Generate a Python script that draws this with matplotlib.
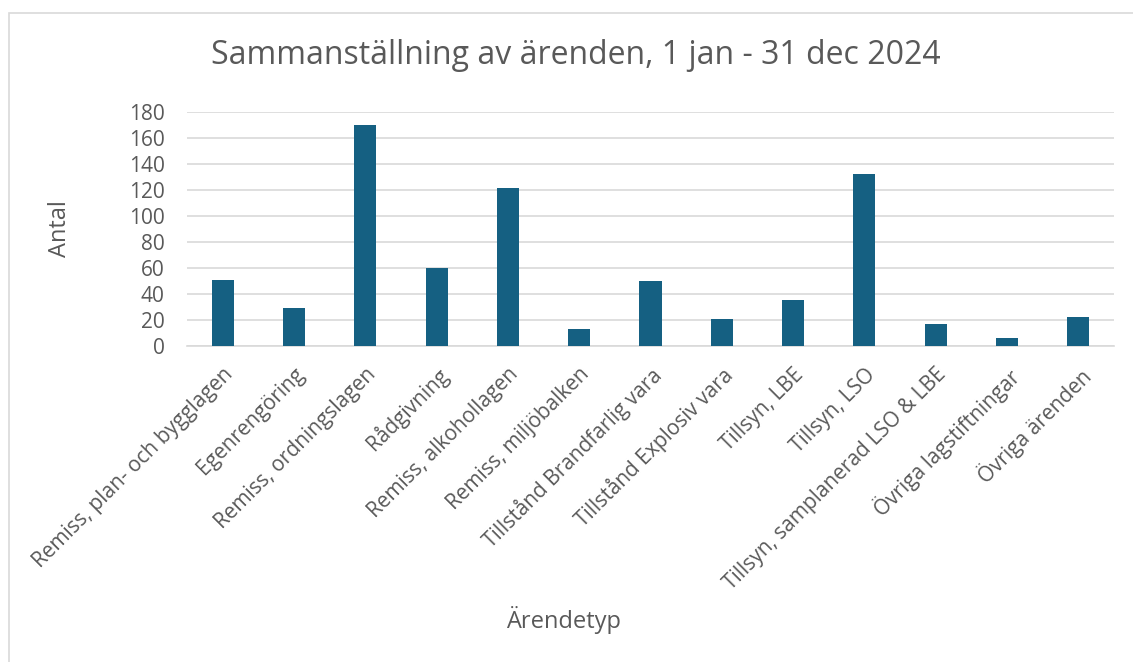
import matplotlib.pyplot as plt
from matplotlib.patches import Rectangle

categories = [
    "Remiss, plan- och bygglagen",
    "Egenrengöring",
    "Remiss, ordningslagen",
    "Rådgivning",
    "Remiss, alkohollagen",
    "Remiss, miljöbalken",
    "Tillstånd Brandfarlig vara",
    "Tillstånd Explosiv vara",
    "Tillsyn, LBE",
    "Tillsyn, LSO",
    "Tillsyn, samplanerad LSO & LBE",
    "Övriga lagstiftningar",
    "Övriga ärenden",
]
antal = [51, 29, 170, 60, 121, 13, 50, 21, 35, 132, 17, 6, 22]
yticks = [0, 20, 40, 60, 80, 100, 120, 140, 160, 180]

text_col = "#595959"
grid_col = "#d9d9d9"
bar_col = "#156082"
plt.rcParams["font.family"] = ["Open Sans", "DejaVu Sans"]

W, H = 1133, 662
fig = plt.figure(figsize=(W / 100, H / 100), dpi=100)

# chart frame (only top and left edges are visible in the crop)
fig.add_artist(Rectangle((8.5 / W, -0.1), 1.2, 1.1 - 12.5 / H,
                         transform=fig.transFigure, fill=False,
                         edgecolor=grid_col, lw=1.2))

ax = fig.add_axes([187 / W, 1 - 346 / H, (1114 - 187) / W, (346 - 111.7) / H])
x = range(len(categories))
ax.bar(x, antal, width=0.31, color=bar_col, zorder=3)

ax.set_xlim(-0.5, len(categories) - 0.5)
ax.set_ylim(0, 180)
ax.set_yticks(yticks)
ax.yaxis.grid(True, color=grid_col, lw=1.2, zorder=0)
for s in ["top", "right", "left"]:
    ax.spines[s].set_visible(False)
ax.spines["bottom"].set_color(grid_col)
ax.spines["bottom"].set_linewidth(1.2)
ax.tick_params(axis="both", length=0, colors=text_col, labelsize=15)
ax.tick_params(axis="y", pad=16)
ax.set_xticks(list(x))
ax.set_xticklabels(categories, rotation=45, ha="right", va="top",
                   rotation_mode="anchor", fontsize=15, color=text_col)
ax.tick_params(axis="x", pad=13)

fig.text(576 / W, 1 - 55 / H, "Sammanställning av ärenden, 1 jan - 31 dec 2024",
         ha="center", va="center", fontsize=23, color=text_col)
fig.text(60 / W, 1 - 229 / H, "Antal", rotation=90, ha="center", va="center",
         fontsize=17, color=text_col)
fig.text(564 / W, 1 - 620 / H, "Ärendetyp", ha="center", va="center",
         fontsize=17, color=text_col)

fig.savefig("out.png", dpi=100)
